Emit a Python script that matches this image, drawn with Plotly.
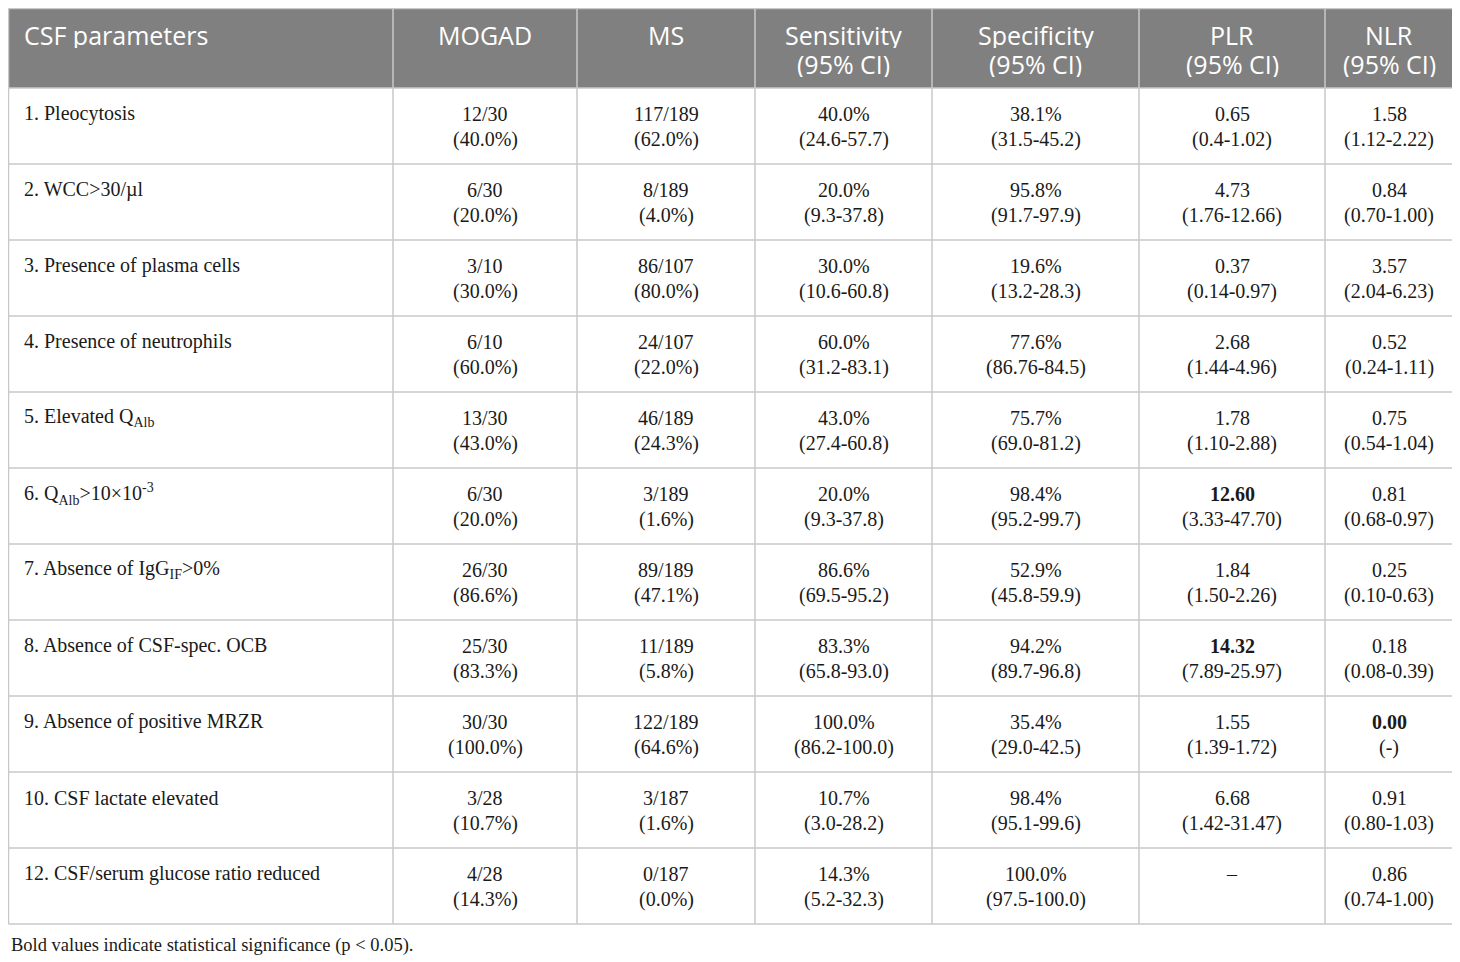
import plotly.graph_objects as go

# column headers
headers = ["CSF parameters", "MOGAD", "MS", "Sensitivity<br>(95% CI)",
           "Specificity<br>(95% CI)", "PLR<br>(95% CI)", "NLR<br>(95% CI)"]

parameters = [
    "1. Pleocytosis",
    "2. WCC&gt;30/µl",
    "3. Presence of plasma cells",
    "4. Presence of neutrophils",
    "5. Elevated Q<sub>Alb</sub>",
    "6. Q<sub>Alb</sub>&gt;10×10<sup>-3</sup>",
    "7. Absence of IgG<sub>IF</sub>&gt;0%",
    "8. Absence of CSF-spec. OCB",
    "9. Absence of positive MRZR",
    "10. CSF lactate elevated",
    "12. CSF/serum glucose ratio reduced",
]

mogad = ["12/30<br>(40.0%)", "6/30<br>(20.0%)", "3/10<br>(30.0%)", "6/10<br>(60.0%)",
         "13/30<br>(43.0%)", "6/30<br>(20.0%)", "26/30<br>(86.6%)", "25/30<br>(83.3%)",
         "30/30<br>(100.0%)", "3/28<br>(10.7%)", "4/28<br>(14.3%)"]

ms = ["117/189<br>(62.0%)", "8/189<br>(4.0%)", "86/107<br>(80.0%)", "24/107<br>(22.0%)",
      "46/189<br>(24.3%)", "3/189<br>(1.6%)", "89/189<br>(47.1%)", "11/189<br>(5.8%)",
      "122/189<br>(64.6%)", "3/187<br>(1.6%)", "0/187<br>(0.0%)"]

sensitivity = ["40.0%<br>(24.6-57.7)", "20.0%<br>(9.3-37.8)", "30.0%<br>(10.6-60.8)",
               "60.0%<br>(31.2-83.1)", "43.0%<br>(27.4-60.8)", "20.0%<br>(9.3-37.8)",
               "86.6%<br>(69.5-95.2)", "83.3%<br>(65.8-93.0)", "100.0%<br>(86.2-100.0)",
               "10.7%<br>(3.0-28.2)", "14.3%<br>(5.2-32.3)"]

specificity = ["38.1%<br>(31.5-45.2)", "95.8%<br>(91.7-97.9)", "19.6%<br>(13.2-28.3)",
               "77.6%<br>(86.76-84.5)", "75.7%<br>(69.0-81.2)", "98.4%<br>(95.2-99.7)",
               "52.9%<br>(45.8-59.9)", "94.2%<br>(89.7-96.8)", "35.4%<br>(29.0-42.5)",
               "98.4%<br>(95.1-99.6)", "100.0%<br>(97.5-100.0)"]

plr = ["0.65<br>(0.4-1.02)", "4.73<br>(1.76-12.66)", "0.37<br>(0.14-0.97)",
       "2.68<br>(1.44-4.96)", "1.78<br>(1.10-2.88)", "<b>12.60</b><br>(3.33-47.70)",
       "1.84<br>(1.50-2.26)", "<b>14.32</b><br>(7.89-25.97)", "1.55<br>(1.39-1.72)",
       "6.68<br>(1.42-31.47)", "–"]

nlr = ["1.58<br>(1.12-2.22)", "0.84<br>(0.70-1.00)", "3.57<br>(2.04-6.23)",
       "0.52<br>(0.24-1.11)", "0.75<br>(0.54-1.04)", "0.81<br>(0.68-0.97)",
       "0.25<br>(0.10-0.63)", "0.18<br>(0.08-0.39)", "<b>0.00</b><br>(-)",
       "0.91<br>(0.80-1.03)", "0.86<br>(0.74-1.00)"]

footnote = "Bold values indicate statistical significance (p &lt; 0.05)."

columns = [parameters, mogad, ms, sensitivity, specificity, plr, nlr]

# layout geometry (pixels of the window); page body has an 8px margin
W, H, body_margin = 1460, 962, 8
col_widths = [384.5, 184, 178, 177, 207, 186, 128]
x_left, y_top = 8.5, 8.5
header_h, row_h = 79.5, 76
pad_left = 13.5

SERIF = "Liberation Serif, Times New Roman, serif"
SANS = "Open Sans, Lato, sans-serif"
body_size, head_size = 20, 25

edges = [x_left]
for w in col_widths:
    edges.append(edges[-1] + w)
row_edges = [y_top, y_top + header_h]
for _ in parameters:
    row_edges.append(row_edges[-1] + row_h)
x_right, y_bottom = edges[-1], row_edges[-1]

fig = go.Figure()

shapes = [dict(type="rect", x0=x_left, x1=x_right, y0=y_top, y1=y_top + header_h,
               fillcolor="#808080", line_width=0, layer="below")]
for y in row_edges:
    shapes.append(dict(type="line", x0=x_left, x1=x_right, y0=y, y1=y,
                       line=dict(color="#c8c8c8", width=1.5)))
for x in edges:
    shapes.append(dict(type="line", x0=x, x1=x, y0=y_top, y1=y_bottom,
                       line=dict(color="#c8c8c8", width=1.5)))

annotations = []


def cell_text(text, ci, top, base_offsets, size, family, color, box_h=None):
    lines = text.split("<br>")
    if ci == 0:
        x, xanchor = edges[0] + pad_left, "left"
    else:
        x, xanchor = (edges[ci] + edges[ci + 1]) / 2, "center"
    for line, off in zip(lines, base_offsets):
        ann = dict(
            text=line, x=x, y=top + off - 0.32 * size, xref="x", yref="y",
            xanchor=xanchor, yanchor="middle", showarrow=False,
            font=dict(family=family, size=size, color=color),
        )
        if box_h:
            ann["height"] = box_h
        annotations.append(ann)


for ci, h in enumerate(headers):
    cell_text(h, ci, y_top, [34, 63], head_size, SANS, "white", box_h=27)

for ci, col in enumerate(columns):
    for ri, val in enumerate(col):
        cell_text(val, ci, row_edges[ri + 1], [32, 58], body_size, SERIF, "#1a1a1a")

annotations.append(dict(
    text=footnote, x=body_margin + 0.5, y=945, xref="x", yref="y",
    xanchor="left", yanchor="middle", showarrow=False,
    font=dict(family=SERIF, size=18.5, color="#1a1a1a"),
))

fig.update_layout(
    width=W - body_margin, height=H - body_margin,
    margin=dict(l=0, r=0, t=0, b=0),
    paper_bgcolor="white", plot_bgcolor="white",
    xaxis=dict(range=[body_margin, W], visible=False, fixedrange=True),
    yaxis=dict(range=[H, body_margin], visible=False, fixedrange=True),
    shapes=shapes, annotations=annotations, showlegend=False,
)

fig.write_html("out.html")
